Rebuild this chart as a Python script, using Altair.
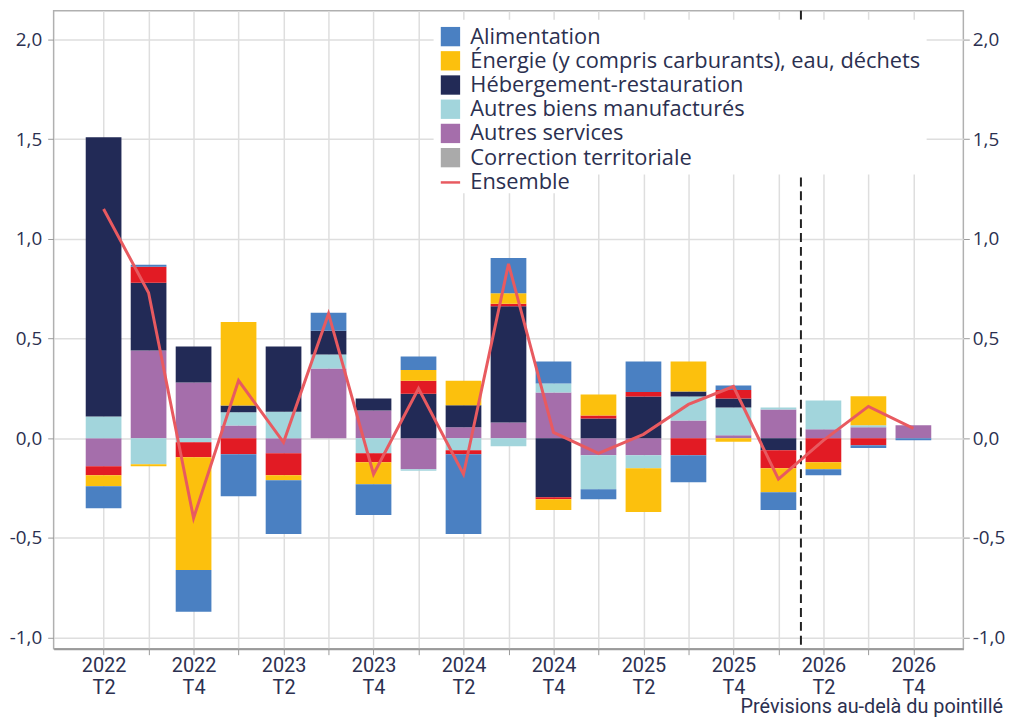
import altair as alt
import pandas as pd

# ---------------- data ----------------
quarters = ["2022 T2", "2022 T3", "2022 T4", "2023 T1", "2023 T2", "2023 T3", "2023 T4",
            "2024 T1", "2024 T2", "2024 T3", "2024 T4", "2025 T1", "2025 T2", "2025 T3",
            "2025 T4", "2026 T1", "2026 T2", "2026 T3", "2026 T4"]

alimentation = [-0.11, 0.01, -0.21, -0.21, -0.27, 0.09, -0.155, 0.067, -0.40, 0.178,
                0.11, -0.05, 0.153, -0.135, 0.022, -0.09, -0.03, -0.013, -0.01]
energie = [-0.055, -0.01, -0.565, 0.418, -0.025, 0.0, -0.11, 0.054, 0.123, 0.052,
           -0.055, 0.105, -0.22, 0.15, -0.017, -0.12, -0.035, 0.145, 0.0]
hebergement = [1.40, 0.34, 0.18, 0.034, 0.327, 0.12, 0.06, 0.224, 0.11, 0.583,
               -0.295, 0.10, 0.21, 0.025, 0.045, -0.06, 0.0, 0.0, 0.0]
autres_biens = [0.11, -0.13, -0.02, 0.066, 0.133, 0.07, -0.075, -0.008, -0.06, -0.04,
                0.045, -0.17, -0.065, 0.12, 0.14, 0.01, 0.145, 0.01, 0.0]
autres_services = [-0.14, 0.44, 0.28, 0.065, -0.075, 0.35, 0.14, -0.155, 0.056, 0.08,
                   0.23, -0.085, -0.085, 0.09, 0.015, 0.145, 0.045, 0.056, 0.066]
tabac = [-0.045, 0.08, -0.075, -0.08, -0.11, 0.0, -0.045, 0.065, -0.02, 0.012,
         -0.01, 0.015, 0.022, -0.085, 0.043, -0.09, -0.12, -0.035, 0.0]
correction = [0.0] * 19
ensemble = [1.15, 0.73, -0.40, 0.29, -0.02, 0.625, -0.18, 0.25, -0.18, 0.875,
            0.03, -0.075, 0.02, 0.17, 0.26, -0.205, -0.01, 0.16, 0.05]

forecast_after = [16.5]  # between 2026 T1 and 2026 T2 (quarter index)

names = {
    "alim": "Alimentation",
    "ener": "Énergie (y compris carburants), eau, déchets",
    "heb": "Hébergement-restauration",
    "abm": "Autres biens manufacturés",
    "as": "Autres services",
    "corr": "Correction territoriale",
    "ens": "Ensemble",
    "tab": "Tabac",
}

# stacking order from zero outward
stack_components = [
    (names["as"], autres_services),
    (names["abm"], autres_biens),
    (names["heb"], hebergement),
    (names["tab"], tabac),
    (names["ener"], energie),
    (names["alim"], alimentation),
    (names["corr"], correction),
]

rows = []
for order, (name, vals) in enumerate(stack_components):
    for i, v in enumerate(vals):
        rows.append({"idx": i + 1, "trimestre": quarters[i], "composante": name,
                     "valeur": v, "ordre": order})
bars_df = pd.DataFrame(rows)
line_df = pd.DataFrame({"idx": list(range(1, 20)), "trimestre": quarters,
                        "serie": names["ens"], "valeur": ensemble})
rule_df = pd.DataFrame({"idx": forecast_after})

legend_values = [names["alim"], names["ener"], names["heb"], names["abm"],
                 names["as"], names["corr"]]
domain = legend_values + [names["tab"]]
colors = ["#4a80c2", "#fcc00d", "#222a56", "#a2d5dc", "#a56eab", "#aaaaaa", "#e21b24"]
line_color = "#e85a60"

# ---------------- styling ----------------
TXT = "#2b3050"
GRID = "#dedede"
TICK = "#9a9a9a"
NARROW = "Roboto, sans-serif"

items = []
for i, q in enumerate(quarters):
    if i % 2 == 0:
        y, t = q.split(" ")
        items.append("['%s','%s']" % (y, t))
    else:
        items.append("''")
x_label_expr = "[" + ",".join(items) + "][datum.value - 1]"

y_label_expr = "replace(replace(format(datum.value, '.1f'), '.', ','), '\u2212', '-')"
y_ticks = [-1.0, -0.5, 0.0, 0.5, 1.0, 1.5, 2.0]

x_enc = alt.X(
    "idx:Q",
    title=None,
    scale=alt.Scale(domain=[0, 20], nice=False, zero=False),
    axis=alt.Axis(values=list(range(1, 20)), labelExpr=x_label_expr, grid=True,
                  gridColor=GRID, gridWidth=1.5, ticks=True, tickSize=6,
                  tickColor=TICK, domain=True, domainColor=TICK, domainWidth=2,
                  labelFont=NARROW, labelFontSize=20,
                  labelColor=TXT, labelLineHeight=22, labelPadding=1,
                  labelOverlap=False, labelFlush=False),
)

y_scale = alt.Scale(domain=[-1.055, 2.144], nice=False, zero=False)

bar_legend = alt.Legend(
    title=None, orient="none", legendX=383, legendY=9, values=legend_values,
    symbolType="square", symbolSize=380, symbolStrokeWidth=0, labelFont="Open Sans",
    labelFontSize=22, labelColor=TXT, labelOffset=9, rowPadding=2.4, padding=6,
    fillColor="white", labelLimit=700,
)
line_legend = alt.Legend(
    title=None, orient="none", legendX=389, legendY=162,
    symbolType="stroke", symbolSize=380, symbolStrokeWidth=2.5, labelFont="Open Sans",
    labelFontSize=22, labelColor=TXT, labelOffset=9, padding=0, fillColor="white",
    labelLimit=700,
)

bars = alt.Chart(bars_df).mark_bar(size=36).encode(
    x=x_enc,
    y=alt.Y("valeur:Q", title=None, stack="zero", scale=y_scale,
            axis=alt.Axis(values=y_ticks, labelExpr=y_label_expr, grid=True,
                          gridColor=GRID, gridWidth=1.5, tickSize=6, tickColor=TICK,
                          domain=False, labelFont="Open Sans", labelFontSize=19,
                          labelColor=TXT, labelPadding=6, orient="left")),
    color=alt.Color("composante:N", scale=alt.Scale(domain=domain, range=colors),
                    legend=bar_legend),
    order=alt.Order("ordre:Q", sort="ascending"),
)

rule = alt.Chart(rule_df).mark_rule(color="#222222", strokeWidth=2,
                                    strokeDash=[9, 5]).encode(x=x_enc)

line = alt.Chart(line_df).mark_line(strokeWidth=3).encode(
    x=x_enc,
    y=alt.Y("valeur:Q", title=None, scale=y_scale,
            axis=alt.Axis(values=y_ticks, labelExpr=y_label_expr, grid=False,
                          tickSize=6, tickColor=TICK, domain=False,
                          labelFont="Open Sans", labelFontSize=19, labelColor=TXT,
                          labelPadding=3, orient="right")),
    stroke=alt.Stroke("serie:N", scale=alt.Scale(domain=[names["ens"]], range=[line_color]),
                      legend=line_legend),
)

chart = alt.layer(bars, rule, line).resolve_axis(y="independent").properties(
    width=917,
    height=643,
    padding={"left": 46, "top": 0, "right": 44, "bottom": 66},
    autosize=alt.AutoSizeParams(type="none"),
    title=alt.TitleParams("Prévisions au-delà du pointillé", orient="bottom",
                          anchor="end", frame="group", font=NARROW, fontSize=20,
                          fontWeight="normal", color=TXT, dx=40, offset=0),
).configure_view(stroke="#b0b0b0", strokeWidth=1.5)

chart.save("out.html", embed_options={"renderer": "svg", "actions": False})
